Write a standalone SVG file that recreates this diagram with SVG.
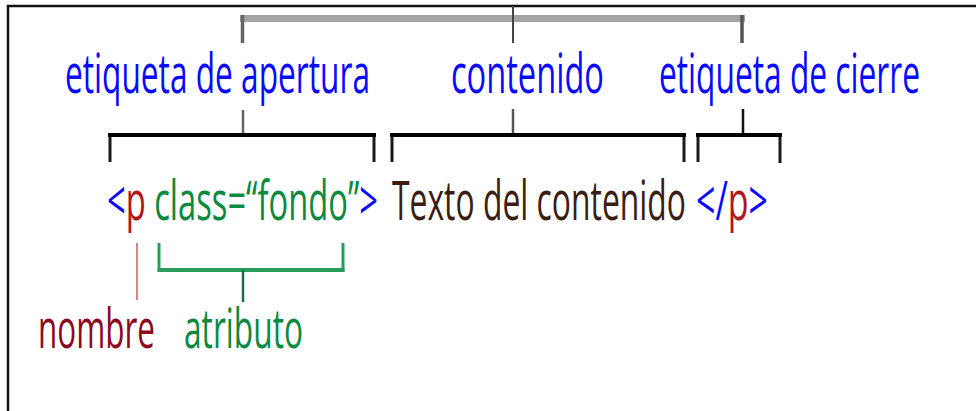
<svg xmlns="http://www.w3.org/2000/svg" width="976" height="411" viewBox="0 0 976 411">
<style>
text{font-family:"Open Sans","Liberation Sans",sans-serif;font-size:55px;}
.blue{fill:#0a0aff;}
.red{fill:#b01818;}
.green{fill:#0e8a40;}
.brown{fill:#3b1d12;}
.dred{fill:#8c0a1e;}
.br{fill:none;stroke:#1a1a1a;stroke-linejoin:miter;}
</style>
<rect width="976" height="411" fill="#fff"/>
<path d="M8,411 V6 H976" fill="none" stroke="#111" stroke-width="2.5"/>
<g id="connectors">
  <line x1="240" y1="18.5" x2="745" y2="18.5" stroke="#a3a3a3" stroke-width="7"/>
  <line x1="242.5" y1="15" x2="242.5" y2="43" stroke="#666" stroke-width="3.5"/>
  <line x1="742" y1="15" x2="742" y2="43" stroke="#555" stroke-width="3.5"/>
  <line x1="513" y1="6" x2="513" y2="43" stroke="#444" stroke-width="2"/>
  <line x1="243" y1="110" x2="243" y2="134" stroke="#666" stroke-width="2.5"/>
  <line x1="513" y1="109" x2="513" y2="134" stroke="#555" stroke-width="2.5"/>
  <line x1="743" y1="109" x2="743" y2="134" stroke="#111" stroke-width="2.5"/>
  <path class="br" d="M110,162 V135 H374 V162" stroke-width="3"/>
  <line x1="108" y1="135" x2="376" y2="135" stroke="#000" stroke-width="4"/>
  <path class="br" d="M392,162 V135 H684 V162" stroke-width="3"/>
  <line x1="390" y1="135" x2="686" y2="135" stroke="#000" stroke-width="4"/>
  <path class="br" d="M698,162 V135 H780 V163" stroke-width="3"/>
  <line x1="696" y1="135" x2="782" y2="135" stroke="#000" stroke-width="4"/>
  <line x1="137" y1="243" x2="137" y2="300" stroke="#d05a5a" stroke-width="1.5"/>
  <path d="M159,243 V270 H343 V243" fill="none" stroke="#2a9d5c" stroke-width="3"/>
  <line x1="157.5" y1="270" x2="344.5" y2="270" stroke="#2a9d5c" stroke-width="4"/>
  <line x1="243" y1="270" x2="243" y2="302" stroke="#1a7040" stroke-width="2.5"/>
</g>
<g id="label-apertura"><text class="blue" x="65" y="93" textLength="305" lengthAdjust="spacingAndGlyphs">etiqueta de apertura</text></g>
<g id="label-contenido"><text class="blue" x="451" y="93" textLength="153" lengthAdjust="spacingAndGlyphs">contenido</text></g>
<g id="label-cierre"><text class="blue" x="659" y="93" textLength="261" lengthAdjust="spacingAndGlyphs">etiqueta de cierre</text></g>
<g id="code-open"><text x="107" y="220" textLength="271" lengthAdjust="spacingAndGlyphs"><tspan class="blue">&lt;</tspan><tspan class="red">p</tspan><tspan class="green"> class=“fondo”</tspan><tspan class="blue">&gt;</tspan></text></g>
<g id="code-content"><text class="brown" x="392" y="220" textLength="294" lengthAdjust="spacingAndGlyphs">Texto del contenido</text></g>
<g id="code-close"><text x="696" y="220" textLength="72" lengthAdjust="spacingAndGlyphs"><tspan class="blue">&lt;/</tspan><tspan class="red">p</tspan><tspan class="blue">&gt;</tspan></text></g>
<g id="label-nombre"><text class="dred" x="38" y="348" textLength="117" lengthAdjust="spacingAndGlyphs">nombre</text></g>
<g id="label-atributo"><text class="green" x="184" y="348" textLength="119" lengthAdjust="spacingAndGlyphs">atributo</text></g>
</svg>
